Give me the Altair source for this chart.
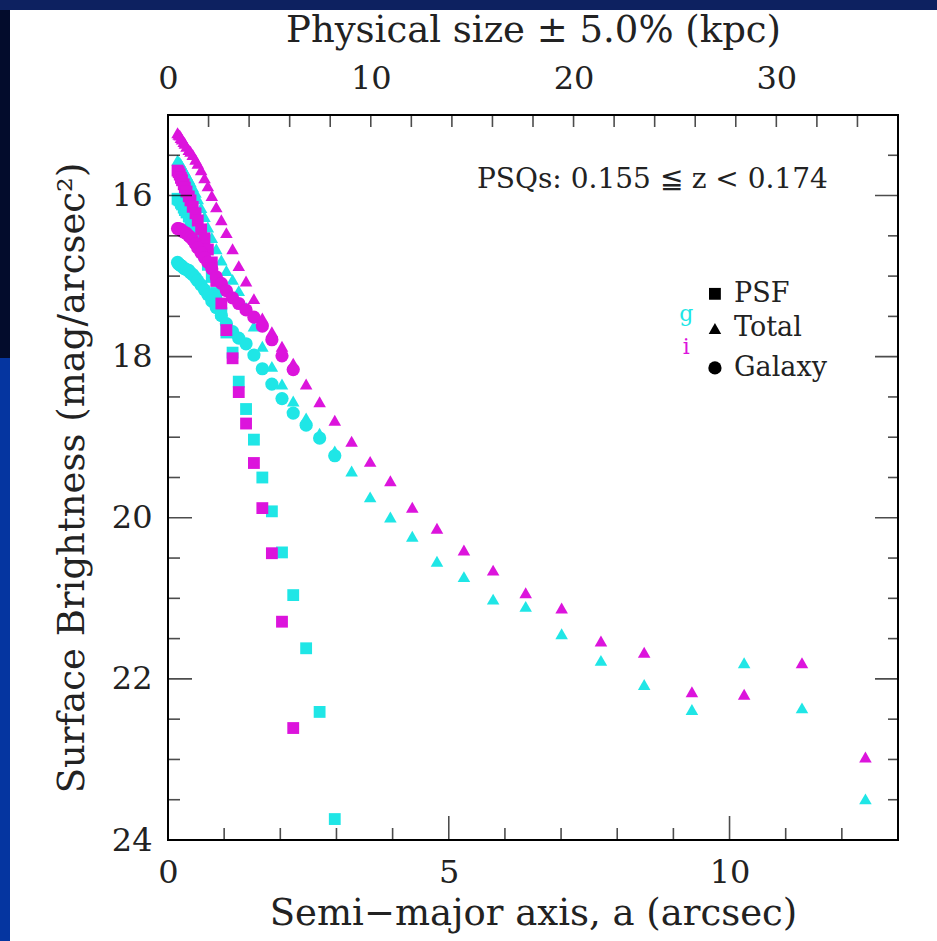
import altair as alt
import pandas as pd

# ---------------- data ----------------
radius = [0.17, 0.19, 0.21, 0.23, 0.25, 0.28, 0.30, 0.33, 0.37, 0.40,
          0.44, 0.49, 0.53, 0.59, 0.65, 0.71, 0.78, 0.86, 0.95, 1.04,
          1.15, 1.26, 1.39, 1.53, 1.68, 1.85, 2.03, 2.23, 2.46, 2.70,
          2.97, 3.27, 3.60, 3.96, 4.35, 4.79, 5.27, 5.79, 6.37, 7.01,
          7.71, 8.48, 9.33, 10.26, 11.29, 12.42]

i_total = [15.22, 15.24, 15.25, 15.28, 15.30, 15.33, 15.35, 15.39, 15.43, 15.45,
           15.49, 15.55, 15.60, 15.68, 15.78, 15.88, 16.00, 16.14, 16.30, 16.46,
           16.66, 16.87, 17.06, 17.28, 17.52, 17.69, 17.87, 18.08, 18.34, 18.56,
           18.79, 19.05, 19.30, 19.54, 19.87, 20.13, 20.40, 20.65, 20.93, 21.12,
           21.53, 21.67, 22.16, 22.19, 21.80, 22.97]
g_total = [15.56, 15.58, 15.59, 15.61, 15.64, 15.68, 15.70, 15.74, 15.79, 15.83,
           15.89, 15.96, 16.04, 16.15, 16.26, 16.39, 16.52, 16.66, 16.80, 16.93,
           17.04, 17.18, 17.39, 17.62, 17.87, 18.12, 18.34, 18.55, 18.76, 18.95,
           19.17, 19.42, 19.74, 19.99, 20.23, 20.54, 20.73, 21.01, 21.10, 21.44,
           21.77, 22.07, 22.38, 21.80, 22.36, 23.49]
i_psf = [15.69, 15.71, 15.74, 15.78, 15.81, 15.86, 15.90, 15.95, 16.01, 16.06,
         16.14, 16.22, 16.31, 16.42, 16.53, 16.67, 16.83, 17.06, 17.34, 17.67,
         18.02, 18.44, 18.83, 19.32, 19.88, 20.44, 21.29, 22.61]
g_psf = [16.04, 16.05, 16.06, 16.09, 16.11, 16.15, 16.18, 16.21, 16.26, 16.31,
         16.37, 16.45, 16.52, 16.62, 16.73, 16.86, 17.01, 17.21, 17.46, 17.70,
         17.95, 18.31, 18.65, 19.03, 19.50, 19.92, 20.43, 20.96, 21.62, 22.41,
         23.74]
i_galaxy = [16.41, 16.41, 16.42, 16.42, 16.44, 16.45, 16.46, 16.47, 16.50, 16.52,
            16.55, 16.60, 16.65, 16.71, 16.77, 16.83, 16.91, 17.01, 17.09, 17.18,
            17.27, 17.34, 17.42, 17.51, 17.62, 17.79, 17.99, 18.16]
g_galaxy = [16.83, 16.85, 16.86, 16.87, 16.88, 16.90, 16.91, 16.92, 16.93, 16.96,
            16.98, 17.02, 17.06, 17.11, 17.17, 17.23, 17.31, 17.39, 17.49, 17.59,
            17.69, 17.77, 17.84, 17.98, 18.15, 18.34, 18.52, 18.70, 18.85, 19.01,
            19.23]

x_labels = [0, 5, 10]
x_minor = [1, 2, 3, 4, 6, 7, 8, 9, 11, 12]
x_major = [5, 10]
y_labels = [16, 18, 20, 22, 24]
y_minor = [15.5, 16.5, 17, 17.5, 18.5, 19, 19.5, 20.5, 21, 21.5, 22.5, 23, 23.5]
y_major = [16, 18, 20, 22]
kpc_labels = [0, 10, 20, 30]
kpc_ticks = [2, 4, 6, 8, 10, 12, 14, 16, 18, 20, 22, 24, 26, 28, 30, 32, 34]

legend_names = ["PSF", "Total", "Galaxy"]
legend_mag = [17.22, 17.65, 18.14]

CYAN = "#1fe6e6"
MAGENTA = "#dc14dc"
FONT = "DejaVu Serif"
TXT = "#222222"
X_DOM = [0, 13]
Y_DOM = [15, 24]
KPC_DOM = [0, 36]

# ---------------- tables ----------------
rows = []
for band, kind, vals in [("g", "PSF", g_psf), ("g", "Total", g_total), ("g", "Galaxy", g_galaxy),
                         ("i", "PSF", i_psf), ("i", "Total", i_total), ("i", "Galaxy", i_galaxy)]:
    for k, v in enumerate(vals):
        rows.append({"a": radius[k], "mu": v, "band": band, "kind": kind})
pts = pd.DataFrame(rows)

xs = alt.Scale(domain=X_DOM, nice=False, zero=False)
ys = alt.Scale(domain=Y_DOM, reverse=True, nice=False, zero=False)

AX = alt.Axis(values=x_labels, ticks=False, domain=False, grid=False, labelFlush=False,
              labelFont=FONT, labelFontSize=32, labelColor=TXT, labelPadding=17,
              title="Semi\u2212major axis, a (arcsec)", titleFont=FONT, titleFontSize=37,
              titleFontWeight="normal", titleColor=TXT, titlePadding=7)
AY = alt.Axis(values=y_labels, ticks=False, domain=False, grid=False, labelFlush=False,
              labelFont=FONT, labelFontSize=32, labelColor=TXT, labelPadding=16,
              title="Surface Brightness (mag/arcsec\u00b2)", titleFont=FONT, titleFontSize=37,
              titleFontWeight="normal", titleColor=TXT, titlePadding=20)
ATOP = alt.Axis(orient="top", values=kpc_labels, ticks=False, domain=False, grid=False,
                labelFlush=False, labelFont=FONT, labelFontSize=32, labelColor=TXT,
                labelPadding=20, title="Physical size \u00b1 5.0% (kpc)", titleFont=FONT,
                titleFontSize=37, titleFontWeight="normal", titleColor=TXT, titlePadding=13)

SHAPES = alt.Scale(domain=legend_names, range=["square", "triangle-up", "circle"])
BANDS = alt.Scale(domain=["g", "i"], range=[CYAN, MAGENTA])

points = alt.Chart(pts).mark_point(filled=True, opacity=1, strokeWidth=0).encode(
    x=alt.X("a:Q", scale=xs, axis=AX),
    y=alt.Y("mu:Q", scale=ys, axis=AY),
    color=alt.Color("band:N", scale=BANDS, legend=None),
    shape=alt.Shape("kind:N", scale=SHAPES, legend=None),
    size=alt.Size("kind:N", scale=alt.Scale(domain=legend_names, range=[140, 175, 210]), legend=None),
)


def ticks(vals, orient, size, pos):
    df = pd.DataFrame({"t": vals})
    m = alt.Chart(df).mark_tick(color="black", thickness=1.6, size=size, orient=orient, clip=True)
    if orient == "vertical":
        return m.encode(x=alt.X("t:Q", scale=xs, axis=AX),
                        y=alt.YDatum(pos, scale=ys, axis=AY))
    return m.encode(y=alt.Y("t:Q", scale=ys, axis=AY),
                    x=alt.XDatum(pos, scale=xs, axis=AX))


tick_layers = [
    ticks(x_minor, "vertical", 24, 24), ticks(x_major, "vertical", 48, 24),
    ticks(y_minor, "horizontal", 24, 0), ticks(y_major, "horizontal", 48, 0),
    ticks(y_minor, "horizontal", 20, 13), ticks(y_major, "horizontal", 46, 13),
]

ann = alt.Chart(pd.DataFrame({"a": [11.75], "mu": [15.81],
                              "t": ["PSQs: 0.155 \u2266 z < 0.174"]})).mark_text(
    align="right", baseline="middle", font=FONT, fontSize=28, color=TXT).encode(
    x=alt.X("a:Q", scale=xs, axis=AX), y=alt.Y("mu:Q", scale=ys, axis=AY), text="t:N")

leg_df = pd.DataFrame({"a": [9.74] * 3, "at": [10.08] * 3, "mu": legend_mag, "kind": legend_names})
leg_marks = alt.Chart(leg_df).mark_point(filled=True, color="black", opacity=1, strokeWidth=0).encode(
    x=alt.X("a:Q", scale=xs, axis=AX), y=alt.Y("mu:Q", scale=ys, axis=AY),
    shape=alt.Shape("kind:N", scale=SHAPES, legend=None),
    size=alt.Size("kind:N", scale=alt.Scale(domain=legend_names, range=[75, 90, 130]), legend=None))
leg_text = alt.Chart(leg_df).mark_text(align="left", baseline="middle", font=FONT, fontSize=27,
                                       color=TXT).encode(
    x=alt.X("at:Q", scale=xs, axis=AX), y=alt.Y("mu:Q", scale=ys, axis=AY), text="kind:N")

band_df = pd.DataFrame({"a": [9.23, 9.23], "mu": [17.47, 17.88], "band": ["g", "i"]})
band_text = alt.Chart(band_df).mark_text(align="center", baseline="middle", font=FONT,
                                         fontSize=22).encode(
    x=alt.X("a:Q", scale=xs, axis=AX), y=alt.Y("mu:Q", scale=ys, axis=AY), text="band:N",
    color=alt.Color("band:N", scale=BANDS, legend=None))

# slide frame (decoration around the white panel)
frame_df = pd.DataFrame({"c": ["frame"]})
frame = alt.Chart(frame_df).mark_rect(clip=False).encode(
    x=alt.value(-168), x2=alt.value(-158), y=alt.value(-115), y2=alt.value(826),
    color=alt.value("#0535a0"))
frame_dark = alt.Chart(frame_df).mark_rect(clip=False).encode(
    x=alt.value(-168), x2=alt.value(-158), y=alt.value(-115), y2=alt.value(243),
    color=alt.value("#030c2c"))
frame_top = alt.Chart(frame_df).mark_rect(clip=False).encode(
    x=alt.value(-168), x2=alt.value(769), y=alt.value(-115), y2=alt.value(-105),
    color=alt.value("#0d2160"))

main = alt.layer(frame, frame_dark, frame_top, points, *tick_layers, ann, leg_marks, leg_text, band_text)

kpc_s = alt.Scale(domain=KPC_DOM, nice=False, zero=False)
top = alt.Chart(pd.DataFrame({"k": kpc_ticks})).mark_tick(
    color="black", thickness=1.6, size=24, orient="vertical", clip=True).encode(
    x=alt.X("k:Q", scale=kpc_s, axis=ATOP),
    y=alt.YDatum(15, scale=ys, axis=AY))

chart = alt.layer(main, top).resolve_scale(x="independent").properties(
    width=730, height=725,
    autosize=alt.AutoSizeParams(type="none"),
    padding={"left": 168, "top": 115, "right": 39, "bottom": 101},
    background="white",
).configure_view(stroke="black", strokeWidth=2)

chart.save("out.html", embed_options={"renderer": "svg", "actions": False})
